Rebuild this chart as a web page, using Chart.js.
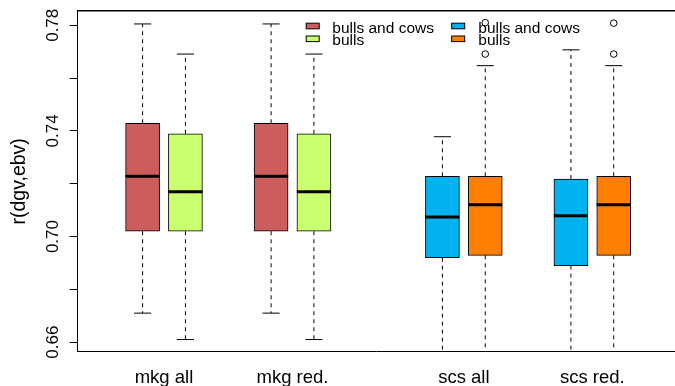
<!DOCTYPE html>
<html>
<head>
<meta charset="utf-8">
<script src="https://cdn.jsdelivr.net/npm/chart.js@4.4.1/dist/chart.umd.min.js"></script>
<style>
  html, body { margin: 0; padding: 0; background: #ffffff; }
  #wrap { width: 675px; height: 386px; }
</style>
</head>
<body>
<div id="wrap"><canvas id="c" width="675" height="386"></canvas></div>
<script>
// Accuracy of genomic breeding values: r(dgv, ebv) per trait set and reference population
const groupLabels   = ['mkg all', 'mkg red.', 'scs all', 'scs red.'];
const groupLabelPos = [1.5, 4.5, 8.5, 11.5];
const boxPos        = [1, 2, 4, 5, 8, 9, 11, 12];
const boxColours    = ['#CD5C5C', '#CAFF70', '#CD5C5C', '#CAFF70', '#00B2EE', '#FF7F00', '#00B2EE', '#FF7F00'];

const lowerWhisker  = [0.6710, 0.6610, 0.6710, 0.6610, 0.6480, 0.6500, 0.6450, 0.6500];
const q1            = [0.7020, 0.7020, 0.7020, 0.7020, 0.6920, 0.6929, 0.6890, 0.6929];
const median        = [0.7228, 0.7170, 0.7228, 0.7170, 0.7074, 0.7120, 0.7079, 0.7120];
const q3            = [0.7429, 0.7389, 0.7429, 0.7389, 0.7228, 0.7228, 0.7218, 0.7228];
const upperWhisker  = [0.7805, 0.7691, 0.7805, 0.7691, 0.7378, 0.7647, 0.7707, 0.7647];
const outliers      = [[], [], [], [], [], [0.7691, 0.7810], [], [0.7691, 0.7808]];

const yTicks        = [0.66, 0.68, 0.70, 0.72, 0.74, 0.76, 0.78];
const legendLabels  = ['bulls and cows', 'bulls'];

const FONT = "'Liberation Sans', Arial, Helvetica, sans-serif";
Chart.defaults.font.family = FONT;
Chart.defaults.color = '#000000';

const BOX_HALF = 0.4;   // half box width in x units
const CAP_HALF = 0.2;   // half staple width in x units

// floating bars from q1 to q3
const boxData = boxPos.map((x, i) => ({ x: x, y: [q1[i], q3[i]] }));

// median segments, separated by gaps
const medianData = boxPos.flatMap((x, i) => [
  { x: x - BOX_HALF, y: median[i] }, { x: x + BOX_HALF, y: median[i] }, { x: x, y: null }
]);

// dashed whiskers
const whiskerData = boxPos.flatMap((x, i) => [
  { x: x, y: q3[i] }, { x: x, y: upperWhisker[i] }, { x: x, y: null },
  { x: x, y: q1[i] }, { x: x, y: lowerWhisker[i] }, { x: x, y: null }
]);

// whisker staples
const capData = boxPos.flatMap((x, i) => [
  { x: x - CAP_HALF, y: upperWhisker[i] }, { x: x + CAP_HALF, y: upperWhisker[i] }, { x: x, y: null },
  { x: x - CAP_HALF, y: lowerWhisker[i] }, { x: x + CAP_HALF, y: lowerWhisker[i] }, { x: x, y: null }
]);

const outlierData = boxPos.flatMap((x, i) => outliers[i].map(v => ({ x: x, y: v })));

// two-column legend drawn at the top of the plot
const boxLegend = {
  id: 'boxLegend',
  afterDatasetsDraw(chart) {
    const ctx = chart.ctx;
    const columns = [
      { keyX: 306.2, textX: 332.3, colours: [boxColours[0], boxColours[1]] },
      { keyX: 451.7, textX: 478.3, colours: [boxColours[4], boxColours[5]] }
    ];
    const baselines = [32.6, 45.4];
    const keyW = 13, keyH = 5.6;
    ctx.save();
    ctx.font = '15.5px ' + FONT;
    ctx.textBaseline = 'alphabetic';
    ctx.textAlign = 'left';
    columns.forEach(col => {
      legendLabels.forEach((lab, r) => {
        const cy = baselines[r] - 6.6;
        ctx.fillStyle = col.colours[r];
        ctx.fillRect(col.keyX, cy - keyH / 2, keyW, keyH);
        ctx.strokeStyle = '#000000';
        ctx.lineWidth = 1;
        ctx.strokeRect(col.keyX, cy - keyH / 2, keyW, keyH);
        ctx.fillStyle = '#000000';
        ctx.fillText(lab, col.textX, baselines[r]);
      });
    });
    ctx.restore();
  }
};

new Chart(document.getElementById('c'), {
  type: 'bar',
  data: {
    datasets: [
      {
        type: 'bar',
        data: boxData,
        backgroundColor: boxColours,
        borderColor: '#000000',
        borderWidth: 1,
        borderSkipped: false,
        barThickness: 34,
        order: 3
      },
      {
        type: 'line',
        data: whiskerData,
        borderColor: '#000000',
        borderWidth: 1,
        borderDash: [4, 4],
        pointRadius: 0,
        spanGaps: false,
        clip: 0,
        order: 2
      },
      {
        type: 'line',
        data: capData,
        borderColor: '#000000',
        borderWidth: 1,
        pointRadius: 0,
        spanGaps: false,
        clip: 0,
        order: 2
      },
      {
        type: 'line',
        data: medianData,
        borderColor: '#000000',
        borderWidth: 3,
        borderCapStyle: 'butt',
        pointRadius: 0,
        spanGaps: false,
        clip: 0,
        order: 1
      },
      {
        type: 'scatter',
        data: outlierData,
        showLine: false,
        pointStyle: 'circle',
        pointRadius: 3.3,
        pointBackgroundColor: 'rgba(0,0,0,0)',
        pointBorderColor: '#000000',
        pointBorderWidth: 1,
        order: 0
      }
    ]
  },
  options: {
    responsive: false,
    animation: false,
    events: [],
    layout: { autoPadding: false, padding: { top: 11, left: 0, right: 0, bottom: 0 } },
    plugins: { legend: { display: false }, tooltip: { enabled: false } },
    scales: {
      x: {
        type: 'linear',
        position: 'bottom',
        offset: false,
        min: -0.515,
        max: 13.43,
        afterBuildTicks: s => { s.ticks = groupLabelPos.map(v => ({ value: v })); },
        afterFit: s => { s.height = 34.3; },
        ticks: {
          autoSkip: false,
          maxRotation: 0,
          padding: 15,
          color: '#000000',
          font: { size: 18.5 },
          callback: (v, i) => groupLabels[i]
        },
        grid: { display: false, drawTicks: false, offset: false },
        border: { display: true, color: '#000000', width: 1 }
      },
      xTop: {
        type: 'linear',
        position: 'top',
        offset: false,
        min: -0.515,
        max: 13.43,
        afterFit: s => { s.height = 0; },
        ticks: { display: false },
        grid: { display: false, drawTicks: false },
        border: { display: true, color: '#000000', width: 1.5 }
      },
      y: {
        type: 'linear',
        min: 0.6564,
        max: 0.7854,
        afterBuildTicks: s => { s.ticks = yTicks.map(v => ({ value: v })); },
        afterFit: s => { s.width = 77.7; },
        ticks: {
          autoSkip: false,
          minRotation: 90,
          maxRotation: 90,
          crossAlign: 'center',
          padding: 0,
          color: '#000000',
          font: { size: 17 },
          callback: (v, i) => (i % 2 === 0 ? Number(v).toFixed(2) : '')
        },
        grid: { drawOnChartArea: false, drawTicks: true, tickLength: 8, color: '#000000', lineWidth: 1 },
        border: { display: true, color: '#000000', width: 1 },
        title: {
          display: true,
          text: 'r(dgv,ebv)',
          color: '#000000',
          font: { size: 19.5 },
          padding: { top: 7.5, bottom: 0 }
        }
      }
    }
  },
  plugins: [boxLegend]
});
</script>
</body>
</html>
